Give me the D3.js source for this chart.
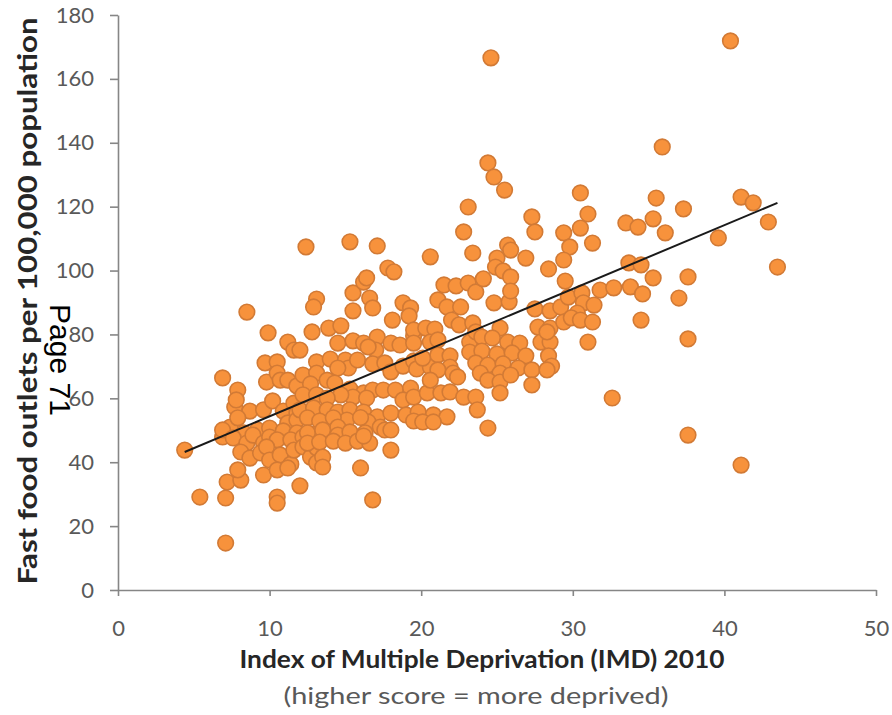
<!DOCTYPE html>
<html>
<head>
<meta charset="utf-8">
<script src="https://cdn.jsdelivr.net/npm/d3@7"></script>
<style>
  body { margin: 0; background: #fff; }
  text { font-family: Lato, "Open Sans", sans-serif; }
</style>
</head>
<body>
<div class="chart"></div>
<script>
const xTicks = [0, 10, 20, 30, 40, 50];
const yTicks = [0, 20, 40, 60, 80, 100, 120, 140, 160, 180];

// fitted line, drawn between its two ends
const trend = [[4.4, 43.2], [43.5, 121.2]];

// [IMD 2010 score, fast food outlets per 100,000]
const areas = [
  [4.4,43.8],[5.4,29.1],[6.9,66.4],[7.1,28.8],[7.1,14.7],[7.2,33.8],[8.1,34.4],[8.5,87.0],
  [9.9,80.5],[11.2,77.6],[11.6,75.1],[9.7,71.1],[10.5,71.4],[9.8,65.1],[10.5,67.9],[10.7,65.7],
  [7.9,62.6],[7.7,57.3],[7.8,59.5],[11.2,65.7],[11.8,63.9],[12.7,62.0],[8.7,56.0],[9.6,56.4],
  [10.2,59.2],[10.9,56.0],[11.6,58.5],[11.8,55.4],[7.4,51.0],[7.9,53.9],[8.3,49.2],[9.2,50.1],
  [10.0,50.7],[11.2,52.3],[11.8,53.2],[10.9,49.8],[11.8,49.2],[6.9,47.9],[6.9,50.1],[7.6,47.6],
  [8.5,46.0],[8.9,48.5],[9.6,46.0],[10.0,47.9],[10.5,47.0],[11.4,47.0],[12.2,47.9],[12.9,48.8],
  [13.1,46.0],[8.1,43.2],[8.7,41.3],[9.4,42.9],[9.8,44.8],[10.0,40.7],[10.7,42.3],[11.4,39.4],
  [11.6,43.8],[12.2,44.8],[12.7,41.6],[13.1,44.5],[7.9,37.6],[9.6,36.0],[10.5,37.6],[11.2,38.2],
  [12.0,32.6],[10.5,29.1],[10.5,27.2],[13.1,39.8],
  [12.4,107.4],[13.1,91.1],[12.9,88.6],[12.8,80.8],[13.9,82.0],[14.7,82.7],[14.5,77.3],[15.5,78.0],
  [16.2,77.3],[17.1,79.2],[17.0,75.1],[16.5,76.1],[18.0,77.3],[15.5,93.0],[16.2,96.4],[16.6,91.4],
  [16.8,88.3],[15.5,87.4],[15.3,109.0],[16.4,97.7],[17.1,107.7],[17.8,100.8],[18.2,99.6],[18.1,84.5],
  [18.8,89.9],[19.3,88.3],[19.2,85.8],[18.6,76.7],[19.5,79.5],[19.5,81.4],[20.3,82.0],[20.9,81.7],
  [19.5,77.3],[20.6,77.6],[12.0,75.1],[13.1,71.4],[14.0,72.3],[15.0,72.0],[15.2,69.5],[14.5,69.5],
  [15.8,72.0],[16.8,70.8],[17.6,71.1],[18.0,68.3],[18.8,70.1],[19.5,71.7],[19.7,69.2],[20.6,69.8],
  [20.1,72.6],[12.2,67.3],[13.1,67.9],[13.8,65.7],[12.7,64.5],[14.3,64.8],[15.3,62.9],[16.2,61.7],
  [16.8,62.6],[15.5,60.4],[16.4,60.1],[14.7,61.1],[17.5,62.6],[18.3,62.6],[19.3,63.2],[18.8,59.5],
  [19.5,60.4],[20.4,61.7],[21.3,61.7],[21.9,62.0],[22.8,60.4],[23.6,60.4],[23.7,56.4],[12.2,61.1],
  [13.1,61.1],[13.8,60.1],[12.0,56.4],[12.9,57.0],[13.8,56.4],[14.5,55.7],[15.3,56.4],[16.2,55.7],
  [17.1,54.2],[18.0,55.4],[19.0,54.8],[19.8,55.7],[19.5,52.9],[16.5,52.6],[15.1,53.2],[20.8,54.8],
  [20.1,52.6],[17.3,51.0],[12.5,53.9],[13.3,52.9],[14.2,53.9],[16.0,54.0],[14.5,51.0],[12.5,49.2],
  [13.5,50.1],[14.5,48.5],[15.3,49.5],[16.3,49.2],[17.6,50.1],[12.5,46.0],[13.3,46.3],[14.2,46.6],
  [15.0,46.0],[15.8,46.6],[16.6,46.0],[16.2,48.2],[21.7,54.2],[18.0,50.1],[18.0,43.8],[13.5,41.6],
  [13.5,38.5],[16.0,38.2],[16.8,28.2],
  [20.6,104.3],[21.1,90.8],[21.5,95.5],[22.3,95.2],[23.1,96.1],[23.6,93.3],[24.1,97.4],[21.7,88.6],
  [22.6,88.6],[24.8,89.9],[25.8,90.2],[27.5,88.0],[28.5,87.4],[29.2,88.6],[29.7,91.7],[30.6,93.0],
  [30.7,89.9],[31.4,89.2],[30.3,86.7],[31.8,93.9],[32.7,94.6],[33.8,94.9],[34.6,92.7],[22.0,84.5],
  [22.5,83.0],[23.4,83.6],[27.7,82.3],[28.5,82.0],[29.4,83.9],[29.9,85.2],[30.5,84.5],[31.3,83.9],
  [25.2,82.0],[21.1,78.3],[23.2,77.6],[23.6,80.8],[24.0,79.2],[24.7,78.9],[25.7,77.6],[26.5,77.3],
  [27.9,77.6],[28.5,77.6],[28.3,80.8],[31.0,77.6],[23.2,74.5],[24.0,74.8],[25.0,73.9],[26.0,74.2],
  [26.9,73.3],[28.4,73.3],[28.6,70.1],[21.1,73.6],[21.9,73.3],[21.9,69.8],[21.1,68.9],[23.6,71.1],
  [24.4,70.4],[25.4,70.8],[26.4,69.5],[27.3,68.9],[28.3,68.9],[22.1,67.9],[23.9,67.9],[25.2,67.9],
  [22.4,66.7],[24.4,65.7],[25.2,65.1],[25.9,67.3],[27.3,64.2],[20.6,65.7],[25.2,61.7],[20.8,52.6],
  [24.4,50.7],[22.8,112.1],[23.1,119.9],[24.4,133.7],[24.8,129.3],[25.5,125.2],[24.6,166.6],[27.3,116.8],
  [27.5,112.1],[30.5,124.3],[31.0,117.7],[29.4,111.8],[29.8,107.4],[30.5,113.3],[31.3,108.6],[29.4,103.3],
  [23.4,105.5],[25.7,108.0],[25.9,106.4],[25.0,103.9],[24.9,101.1],[25.4,99.9],[25.9,98.0],[25.9,93.6],
  [26.9,103.9],[28.4,100.5],[29.5,96.7],
  [32.6,60.1],[33.5,114.9],[34.3,113.6],[35.3,116.2],[35.5,122.7],[35.9,138.7],[36.1,111.8],[37.3,119.3],
  [41.1,123.0],[41.9,121.2],[42.9,115.2],[39.6,110.2],[43.5,101.1],[33.7,102.4],[34.5,101.8],[35.3,97.7],
  [37.6,98.0],[37.0,91.4],[34.5,84.5],[37.6,78.6],[37.6,48.5],[41.1,39.1],[40.4,171.9]
];

const width = 892, height = 715;

const scaleIMD = d3.scaleLinear().domain([0, 50]).range([118, 876]);
const scaleRate = d3.scaleLinear().domain([0, 180]).range([590, 15]);

const svg = d3.select(".chart").append("svg")
    .attr("width", width)
    .attr("height", height);

// points
svg.append("g")
    .selectAll("circle")
    .data(areas)
    .enter()
    .append("circle")
    .attr("cx", d => scaleIMD(d[0]))
    .attr("cy", d => scaleRate(d[1]))
    .attr("r", 7.8)
    .attr("fill", "#f7923c")
    .attr("stroke", "#d27a35")
    .attr("stroke-width", 1.6);

// trend line
svg.append("path")
    .datum(trend)
    .attr("d", d3.line().x(d => scaleIMD(d[0])).y(d => scaleRate(d[1])))
    .attr("stroke", "#1a1a1a")
    .attr("stroke-width", 2)
    .attr("fill", "none");

const yAxis = d3.axisLeft(scaleRate)
    .tickValues(yTicks)
    .tickSize(8)
    .tickSizeOuter(0)
    .tickPadding(16);

const xAxis = d3.axisBottom(scaleIMD)
    .tickValues(xTicks)
    .tickSize(6)
    .tickSizeOuter(0)
    .tickPadding(24);

const gy = svg.append("g")
    .attr("transform", `translate(${scaleIMD(0)},0)`)
    .call(yAxis);

const gx = svg.append("g")
    .attr("transform", `translate(0,${scaleRate(0)})`)
    .call(xAxis);

[gx, gy].forEach(g => {
    g.select(".domain").attr("stroke", "#868686").attr("stroke-width", 1.6);
    g.selectAll(".tick line").attr("stroke", "#868686").attr("stroke-width", 1.6);
    g.selectAll(".tick text")
        .attr("fill", "#595959")
        .attr("font-size", 22)
        .style("font-family", "Lato, sans-serif");
});

// axis titles
svg.append("text")
    .attr("transform", "translate(37,301) rotate(-90)")
    .attr("text-anchor", "middle")
    .attr("font-size", 27)
    .attr("font-weight", "bold")
    .attr("fill", "#262626")
    .attr("textLength", 567)
    .attr("lengthAdjust", "spacingAndGlyphs")
    .text("Fast food outlets per 100,000 population");

svg.append("text")
    .attr("x", 482)
    .attr("y", 668)
    .attr("text-anchor", "middle")
    .attr("font-size", 24)
    .attr("font-weight", "bold")
    .attr("fill", "#262626")
    .attr("textLength", 485)
    .attr("lengthAdjust", "spacingAndGlyphs")
    .text("Index of Multiple Deprivation (IMD) 2010");

svg.append("text")
    .attr("x", 476)
    .attr("y", 704)
    .attr("text-anchor", "middle")
    .attr("font-size", 23)
    .attr("fill", "#595959")
    .attr("textLength", 385)
    .attr("lengthAdjust", "spacingAndGlyphs")
    .text("(higher score = more deprived)");

// page stamp over the chart
svg.append("text")
    .attr("transform", "translate(50,360) rotate(90)")
    .attr("text-anchor", "middle")
    .attr("font-size", 30)
    .attr("fill", "#000")
    .style("font-family", "'Liberation Sans', Arial, sans-serif")
    .text("Page 71");
</script>
</body>
</html>
